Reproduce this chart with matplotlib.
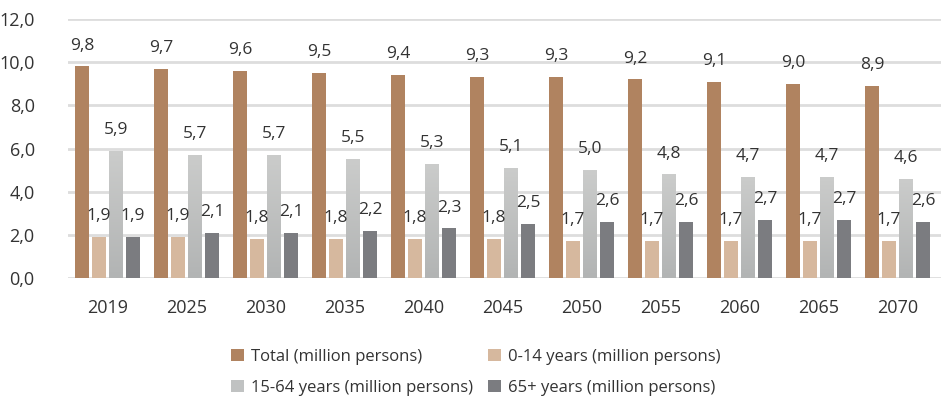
import numpy as np
import matplotlib.pyplot as plt
from matplotlib.patches import Patch
from matplotlib.colors import LinearSegmentedColormap

plt.rcParams['font.family'] = ['Open Sans', 'DejaVu Sans']

## Population projection values (million persons)
years = ['2019', '2025', '2030', '2035', '2040', '2045', '2050', '2055', '2060', '2065', '2070']
total = [9.8, 9.7, 9.6, 9.5, 9.4, 9.3, 9.3, 9.2, 9.1, 9.0, 8.9]
age_0_14 = [1.9, 1.9, 1.8, 1.8, 1.8, 1.8, 1.7, 1.7, 1.7, 1.7, 1.7]
age_15_64 = [5.9, 5.7, 5.7, 5.5, 5.3, 5.1, 5.0, 4.8, 4.7, 4.7, 4.6]
age_65 = [1.9, 2.1, 2.1, 2.2, 2.3, 2.5, 2.6, 2.6, 2.7, 2.7, 2.6]

series = [
    (total, 'Total (million persons)', '#b08360'),
    (age_0_14, '0-14 years (million persons)', '#d6b89e'),
    (age_15_64, '15-64 years (million persons)', '#c0c2c2'),
    (age_65, '65+ years (million persons)', '#7b7c80'),
]

fig = plt.figure(figsize=(9.41, 3.99), dpi=100)
ax = fig.add_axes([68 / 941, 1 - 278 / 399, (941 - 68) / 941, (278 - 19) / 399])

x = np.arange(len(years))
width = 0.177
pitch = 0.215
grey_cmap = LinearSegmentedColormap.from_list('grey_grad', ['#b2b4b4', '#cbcccb'])
handles = []
for k, (vals, name, col) in enumerate(series):
    pos = x + (k - 1.5) * pitch
    bars = ax.bar(pos, vals, width=width, color=col, zorder=3)
    if k == 2:
        # light grey vertical gradient on the working-age bars
        grad = np.linspace(0, 1, 100).reshape(-1, 1)
        for b in bars:
            b.set_facecolor('none')
            im = ax.imshow(grad, extent=(b.get_x(), b.get_x() + b.get_width(), 0, b.get_height()),
                           cmap=grey_cmap, origin='lower', aspect='auto', zorder=3)
            im.set_clip_path(b)
    for xp, v in zip(pos, vals):
        ax.annotate(f'{v:.1f}'.replace('.', ','), (xp, v), xytext=(0, 15),
                    textcoords='offset points', ha='center', va='center',
                    fontsize=12.5, color='#333333', zorder=4)
    handles.append(Patch(facecolor=col, label=name))

ax.set_xlim(-0.5, 10.55)
ax.set_ylim(0, 12)
ax.set_yticks(np.arange(0, 12.1, 2))
ax.set_yticklabels([f'{t:.1f}'.replace('.', ',') for t in np.arange(0, 12.1, 2)])
ax.set_xticks(x)
ax.set_xticklabels(years)
ax.tick_params(axis='both', length=0, labelsize=13, colors='#333333')
ax.tick_params(axis='y', pad=24)
ax.tick_params(axis='x', pad=15)
ax.yaxis.grid(True, color='#dddddd', linewidth=2, zorder=0)
for s in ax.spines.values():
    s.set_visible(False)

order = [handles[0], handles[2], handles[1], handles[3]]
fig.legend(handles=order, ncol=2, loc='upper left', bbox_to_anchor=(231 / 941, 1 - 349 / 399),
           frameon=False, fontsize=12, handlelength=0.75, handleheight=0.75,
           handletextpad=0.45, columnspacing=0.9, labelspacing=0.9, labelcolor='#333333',
           borderpad=0, borderaxespad=0)

fig.savefig('out.png', dpi=100)
